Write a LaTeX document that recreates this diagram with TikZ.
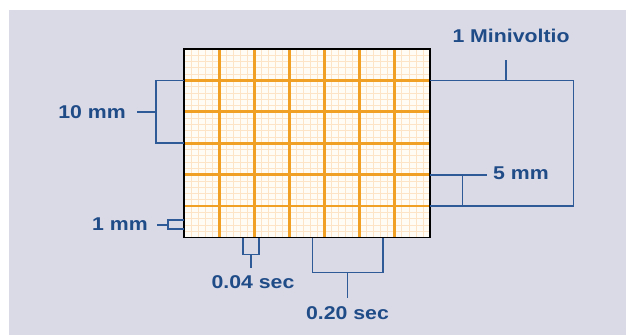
\documentclass[tikz,border=0pt]{standalone}
\usepackage{fontspec}
\setmainfont{Liberation Sans}[FakeStretch=1.15]
\definecolor{bgc}{HTML}{DADAE7}
\definecolor{lblue}{HTML}{2E5A97}
\definecolor{tblue}{HTML}{1F4B87}
\definecolor{orng}{HTML}{F0A024}
\definecolor{fine}{HTML}{FDE4C6}
\definecolor{paper}{HTML}{FFFBF5}
\begin{document}
\begin{tikzpicture}[x=1pt,y=-1pt,
  lbl/.style={text=tblue,font=\fontsize{18.5}{20}\selectfont\bfseries,inner sep=0pt},
  conn/.style={draw=lblue,line width=1.7pt},
  major/.style={draw=orng,line width=2.8pt},
  minor/.style={draw=fine,line width=0.8pt}]
\useasboundingbox (0,0) rectangle (626,335);
\fill[white] (0,0) rectangle (626,335);
\fill[bgc] (9,10) rectangle (626,335);
% grid
\def\cw{35.143}\def\rh{31.417}
\fill[paper] (184,49) rectangle (430,237.5);
\foreach \i in {1,...,34}{\draw[minor] ({184+\i*\cw/5},49) -- ({184+\i*\cw/5},237.5);}
\foreach \j in {1,...,29}{\draw[minor] (184,{49+\j*\rh/5}) -- (430,{49+\j*\rh/5});}
\foreach \i in {1,...,6}{\draw[major] ({184+\i*\cw},49) -- ({184+\i*\cw},237.5);}
\foreach \j in {1,...,5}{\draw[major] (184,{49+\j*\rh}) -- (430,{49+\j*\rh});}
\draw[black,line width=1.8pt] (184,49) rectangle (430,237.5);
% labels
\node[lbl] (mv) at (511,36) {1 Minivoltio};
\node[lbl] (ten) at (92,112.5) {10 mm};
\node[lbl] (one) at (120,224.5) {1 mm};
\node[lbl] (five) at (521,173.5) {5 mm};
\node[lbl] (s04) at (253,282) {0.04 sec};
\node[lbl] (s20) at (347.5,313.5) {0.20 sec};
% coordinates
\coordinate (r1) at (430,80.4);
\coordinate (r4) at (430,174.7);
\coordinate (r5) at (430,206.1);
\coordinate (l1) at (184,80.4);
\coordinate (l3) at (184,143.3);
% 1 Minivoltio bracket
\draw[conn] (r1) -- (573.5,80.4) -- (573.5,206.1) -- (r5);
\coordinate (mvt) at (506,80.4);
\draw[conn] (mvt) -- (506,60);
% 5 mm bracket
\draw[conn] (r4) -- (486.5,174.7);
\draw[conn] (462.5,174.7) -- (462.5,206.1);
% 10 mm bracket
\draw[conn] (l1) -- (155.7,80.4) -- (155.7,143.3) -- (l3);
\draw[conn] (155.7,112) -- (137,112);
% 1 mm bracket
\draw[conn] (184,220.2) -- (167.7,220.2) -- (167.7,229.3) -- (184,229.3);
\draw[conn] (167.7,224.7) -- (156.5,224.7);
% 0.04 sec bracket
\draw[conn] (242.7,237.5) -- (242.7,254.5) -- (259.2,254.5) -- (259.2,237.5);
\draw[conn] (250.9,254.5) -- (250.9,267.5);
% 0.20 sec bracket
\draw[conn] (312.5,237.5) -- (312.5,272.5) -- (382.8,272.5) -- (382.8,237.5);
\draw[conn] (347.6,272.5) -- (347.6,297.5);
\end{tikzpicture}
\end{document}
